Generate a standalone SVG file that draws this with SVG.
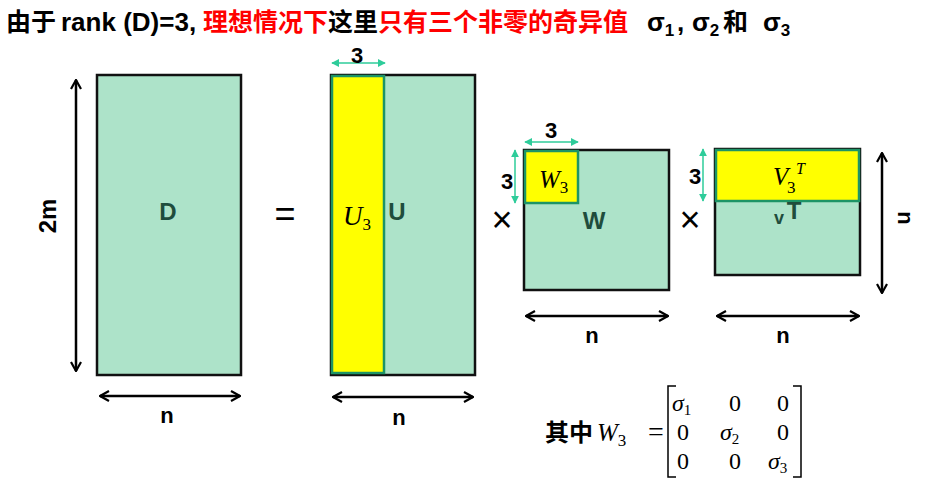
<svg xmlns="http://www.w3.org/2000/svg" width="930" height="488" viewBox="0 0 930 488">
<defs>
<style>
.mat{fill:#ade3c9;stroke:#111;stroke-width:2.5}
.yel{fill:#ffff00;stroke:#1d9466;stroke-width:2.5}
.blk{stroke:#000;stroke-width:2.5;fill:none}
.grn{stroke:#2ecc9a;stroke-width:1.5;fill:none}
.lbl{font-family:"Liberation Sans",Arial,sans-serif;font-weight:bold;font-size:22px;fill:#000;text-anchor:middle}
.dk{font-family:"Liberation Sans",Arial,sans-serif;font-weight:bold;font-size:24px;fill:#1f4d3c;text-anchor:middle}
.math{font-family:"Liberation Serif","DejaVu Serif",serif;font-style:italic;font-size:25px;fill:#000}
.sub{font-style:normal;font-size:17px}
.num{font-family:"Liberation Serif","DejaVu Serif",serif;font-size:24px;fill:#000;text-anchor:middle}
.op{font-family:"Liberation Sans",Arial,sans-serif;font-size:36px;fill:#000;text-anchor:middle}
.title{font-family:"Liberation Sans","Noto Sans CJK SC",sans-serif;font-weight:bold;font-size:25px}
.lat{font-size:26px}
</style>
<marker id="ah" viewBox="0 0 12 12" refX="11" refY="6" markerWidth="12" markerHeight="12" markerUnits="userSpaceOnUse" orient="auto-start-reverse">
<polyline points="2,1 11,6 2,11" fill="none" stroke="#000" stroke-width="2.2"/>
</marker>
<marker id="gh" viewBox="0 0 10 10" refX="9" refY="5" markerWidth="8" markerHeight="8" markerUnits="userSpaceOnUse" orient="auto-start-reverse">
<path d="M0,0 L10,5 L0,10 Z" fill="#2ecc9a"/>
</marker>
</defs>
<rect width="930" height="488" fill="#fff"/>

<text class="title" y="31"><tspan x="6" fill="#000">由于</tspan><tspan x="61" class="lat" fill="#000">rank (D)=3,</tspan><tspan x="203" fill="#ff0000">理想情况下</tspan><tspan fill="#000">这里</tspan><tspan fill="#ff0000">只有三个非零的奇异值</tspan><tspan x="647" class="lat" fill="#000">σ</tspan><tspan style="font-size:17px" dy="5">1</tspan><tspan x="677" dy="-5" class="lat">,</tspan><tspan x="692" class="lat">σ</tspan><tspan style="font-size:17px" dy="5">2</tspan><tspan x="723" dy="-5">和</tspan><tspan x="763" class="lat">σ</tspan><tspan style="font-size:17px" dy="5">3</tspan></text>

<g id="D">
<rect class="mat" x="97" y="75" width="144" height="300"/>
<text class="dk" x="168" y="220">D</text>
</g>
<g id="U">
<rect class="mat" x="331" y="75" width="144" height="300"/>
<rect class="yel" x="332" y="76" width="52" height="297"/>
<text class="math" x="343" y="225" style="font-size:27px">U<tspan class="sub" dy="5">3</tspan></text>
<text class="dk" x="397" y="220">U</text>
</g>
<g id="W">
<rect class="mat" x="524" y="150" width="145" height="140"/>
<rect class="yel" x="525" y="151" width="53" height="52"/>
<text class="math" x="539" y="188">W<tspan class="sub" dy="5">3</tspan></text>
<text class="dk" x="594" y="229">W</text>
</g>
<g id="VT">
<rect class="mat" x="715" y="149" width="145" height="126"/>
<rect class="yel" x="716" y="150" width="143" height="51"/>
<text class="math" x="773" y="185">V</text>
<text class="math sub" x="787" y="193">3</text>
<text class="math" x="796" y="174" style="font-size:16px">T</text>
<text class="dk" x="779" y="224" style="font-size:18px">v</text>
<text class="dk" x="794" y="219">T</text>
</g>

<g id="connectors">
<line class="blk" x1="76" y1="80" x2="76" y2="371" marker-start="url(#ah)" marker-end="url(#ah)"/>
<line class="blk" x1="100" y1="396" x2="240" y2="396" marker-start="url(#ah)" marker-end="url(#ah)"/>
<line class="blk" x1="333" y1="397" x2="473" y2="397" marker-start="url(#ah)" marker-end="url(#ah)"/>
<line class="blk" x1="526" y1="316" x2="668" y2="316" marker-start="url(#ah)" marker-end="url(#ah)"/>
<line class="blk" x1="717" y1="316" x2="859" y2="316" marker-start="url(#ah)" marker-end="url(#ah)"/>
<line class="blk" x1="882" y1="153" x2="882" y2="293" marker-start="url(#ah)" marker-end="url(#ah)"/>
<line class="grn" x1="332" y1="63" x2="385" y2="63" marker-start="url(#gh)" marker-end="url(#gh)"/>
<line class="grn" x1="525" y1="142" x2="578" y2="142" marker-start="url(#gh)" marker-end="url(#gh)"/>
<line class="grn" x1="515" y1="150" x2="515" y2="203" marker-start="url(#gh)" marker-end="url(#gh)"/>
<line class="grn" x1="703" y1="149" x2="703" y2="201" marker-start="url(#gh)" marker-end="url(#gh)"/>
</g>

<text class="lbl" x="0" y="0" style="font-size:24px" transform="translate(56,216) rotate(-90)">2m</text>
<text class="lbl" x="167" y="423">n</text>
<text class="lbl" x="399" y="425">n</text>
<text class="lbl" x="592" y="343">n</text>
<text class="lbl" x="783" y="343">n</text>
<text class="lbl" x="0" y="0" transform="translate(898,218) rotate(90)">n</text>
<text class="lbl" x="357" y="63">3</text>
<text class="lbl" x="551" y="138">3</text>
<text class="lbl" x="507" y="189">3</text>
<text class="lbl" x="695" y="184">3</text>
<text class="op" x="285" y="226">=</text>
<text class="op" x="502" y="232">×</text>
<text class="op" x="690" y="232">×</text>

<g id="formula">
<text class="title" x="545" y="441" style="font-size:24px">其中</text>
<text class="math" x="597" y="441">W<tspan class="sub" dy="5">3</tspan></text>
<text class="num" x="656" y="441" style="font-size:28px">=</text>
<path d="M676,386 H668 V477 H676 M793,386 H801 V477 H793" fill="none" stroke="#000" stroke-width="1.5"/>
<text class="math" x="672" y="411" style="font-size:24px">σ<tspan class="sub" dy="4" style="font-size:15px">1</tspan></text>
<text class="num" x="735" y="411">0</text>
<text class="num" x="783" y="411">0</text>
<text class="num" x="683" y="440">0</text>
<text class="math" x="720" y="440" style="font-size:24px">σ<tspan class="sub" dy="4" style="font-size:15px">2</tspan></text>
<text class="num" x="783" y="440">0</text>
<text class="num" x="683" y="469">0</text>
<text class="num" x="735" y="469">0</text>
<text class="math" x="768" y="469" style="font-size:24px">σ<tspan class="sub" dy="4" style="font-size:15px">3</tspan></text>
</g>
</svg>
